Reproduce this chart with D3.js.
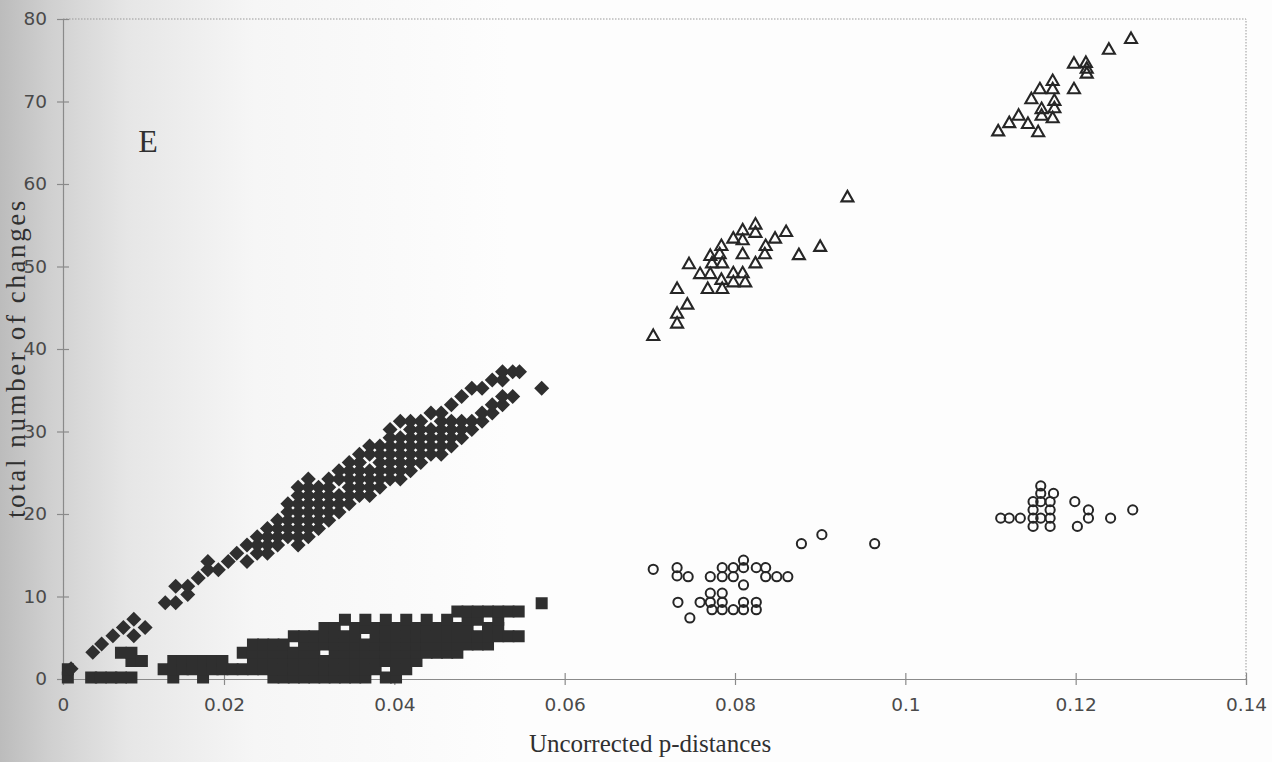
<!DOCTYPE html>
<html>
<head>
<meta charset="utf-8">
<script src="https://cdn.jsdelivr.net/npm/d3@7"></script>
<style>
  body { margin: 0; background: #fcfcfc; }
  svg { display: block; }
</style>
</head>
<body>
<div id="chart"></div>
<script>
// tick values
const xTicks = [0, 0.02, 0.04, 0.06, 0.08, 0.1, 0.12, 0.14];
const yTicks = [0, 10, 20, 30, 40, 50, 60, 70, 80];

// open triangles [p-distance, changes]
const triangles = [
  [0.1265, 77.7], [0.1239, 76.4], [0.1198, 74.7], [0.1212, 74.8], [0.1213, 74.1],
  [0.1213, 73.5], [0.1198, 71.6], [0.1173, 72.6], [0.1173, 71.6], [0.1175, 70.2],
  [0.1175, 69.3], [0.1173, 68.1], [0.1158, 71.6], [0.1148, 70.4], [0.116, 69.2],
  [0.116, 68.4], [0.1133, 68.4], [0.1122, 67.5], [0.1109, 66.5], [0.1144, 67.4],
  [0.1156, 66.4],
  [0.0932, 58.5], [0.0824, 55.2], [0.0809, 54.5], [0.0824, 54.2], [0.0798, 53.5],
  [0.0809, 53.3], [0.086, 54.3], [0.0847, 53.5], [0.0836, 52.6], [0.0835, 51.6],
  [0.0784, 52.6], [0.0782, 51.6], [0.0785, 50.5], [0.0771, 51.4], [0.0773, 50.5],
  [0.0809, 51.6], [0.0824, 50.5], [0.0746, 50.4], [0.0875, 51.5], [0.09, 52.5],
  [0.0759, 49.2], [0.0771, 49.2], [0.0798, 49.3], [0.0809, 49.3], [0.0784, 48.5],
  [0.0798, 48.2], [0.0812, 48.2], [0.0768, 47.4], [0.0785, 47.4], [0.0732, 47.4],
  [0.0744, 45.5], [0.0732, 44.4], [0.0732, 43.2], [0.0704, 41.7]
];

// open circles [p-distance, changes]
const circles = [
  [0.0704, 13.3], [0.0732, 13.5], [0.0732, 12.5], [0.0745, 12.4], [0.0771, 12.4],
  [0.0785, 12.4], [0.0798, 12.4], [0.0785, 13.5], [0.0798, 13.5], [0.081, 13.5],
  [0.0825, 13.5], [0.0836, 13.5], [0.081, 14.4], [0.0836, 12.4], [0.0849, 12.4],
  [0.0862, 12.4], [0.081, 11.4], [0.0878, 16.4], [0.0902, 17.5], [0.0964, 16.4],
  [0.0733, 9.3], [0.0759, 9.3], [0.0771, 9.3], [0.0785, 9.3], [0.0771, 10.4],
  [0.0785, 10.4], [0.0773, 8.4], [0.0785, 8.4], [0.0798, 8.4], [0.081, 8.4],
  [0.0825, 8.4], [0.081, 9.3], [0.0825, 9.3], [0.0747, 7.4],
  [0.1112, 19.5], [0.1122, 19.5], [0.1135, 19.5], [0.1159, 23.4], [0.115, 21.5],
  [0.1159, 21.5], [0.117, 21.5], [0.115, 20.5], [0.117, 20.5], [0.115, 19.5],
  [0.1159, 19.5], [0.117, 19.5], [0.115, 18.5], [0.117, 18.5], [0.1174, 22.5],
  [0.1159, 22.5], [0.1199, 21.5], [0.1202, 18.5], [0.1215, 20.5], [0.1215, 19.5],
  [0.1241, 19.5], [0.1267, 20.5]
];

// filled diamonds, by column: [p-distance, [changes...]]
const diamondCols = [
  [0.001, [1]], [0.0037, [3]], [0.0048, [4]], [0.0062, [5]], [0.0075, [6]],
  [0.0088, [5, 7]], [0.0102, [6]],
  [0.0127, [9]], [0.014, [9, 11]], [0.0155, [10, 11]], [0.0168, [12]],
  [0.018, [13, 14]], [0.0193, [13]], [0.0205, [14]], [0.0215, [15]], [0.0227, [14, 16]],
  [0.0239, [15, 16, 17]], [0.0251, [15, 16, 17, 18]], [0.0263, [16, 17, 18, 19]],
  [0.0275, [17, 18, 19, 20, 21]], [0.0287, [16, 17, 18, 19, 20, 21, 22, 23]],
  [0.0299, [17, 18, 19, 20, 21, 22, 23, 24]], [0.0311, [18, 19, 20, 21, 22, 23]],
  [0.0323, [19, 20, 21, 22, 23, 24]], [0.0335, [20, 21, 22, 24, 25]],
  [0.0347, [21, 22, 23, 24, 25, 26]], [0.0359, [22, 23, 24, 25, 26, 27]],
  [0.0371, [22, 23, 24, 25, 27, 28]], [0.0383, [23, 24, 25, 26, 27, 28]],
  [0.0395, [24, 25, 26, 27, 28, 29, 30]], [0.0407, [24, 25, 26, 27, 28, 29, 31]],
  [0.0419, [25, 26, 27, 28, 29, 30, 31]], [0.0431, [26, 27, 28, 29, 30, 31]],
  [0.0443, [27, 28, 29, 30, 32]], [0.0455, [27, 28, 29, 30, 31, 32]],
  [0.0467, [28, 29, 30, 31, 33]], [0.0479, [29, 30, 31, 34]], [0.0491, [30, 31, 35]],
  [0.0503, [31, 32, 35]], [0.0515, [32, 33, 36]], [0.0527, [33, 34, 36, 37]],
  [0.0539, [34, 37]], [0.0547, [37]], [0.0573, [35]]
];

// filled squares, by column: [p-distance, [changes...]]
const squareCols = [
  [0.0006, [0, 1]], [0.0035, [0]], [0.0047, [0]], [0.006, [0]], [0.0072, [0, 3]],
  [0.0085, [0, 2, 3]], [0.0098, [2]],
  [0.0125, [1]], [0.0137, [0, 1, 2]], [0.0149, [1, 2]], [0.0161, [1, 2]],
  [0.0174, [0, 1, 2]], [0.0186, [1, 2]], [0.0198, [1, 2]], [0.021, [1]],
  [0.0222, [1, 3]], [0.0234, [1, 2, 3, 4]], [0.0246, [1, 2, 3, 4]],
  [0.0258, [0, 1, 2, 3, 4]], [0.027, [0, 1, 2, 3, 4]], [0.0282, [0, 1, 2, 3, 5]],
  [0.0294, [0, 1, 2, 3, 4, 5]], [0.0306, [0, 1, 2, 3, 4, 5]],
  [0.0318, [0, 1, 2, 4, 5, 6]], [0.033, [0, 1, 2, 3, 4, 5, 6]],
  [0.0342, [0, 1, 2, 3, 4, 5, 7]], [0.0354, [0, 1, 2, 3, 4, 5, 6]],
  [0.0366, [0, 1, 2, 3, 4, 6, 7]], [0.0378, [1, 2, 3, 4, 5, 6]],
  [0.039, [0, 2, 3, 4, 5, 6, 7]], [0.0402, [0, 1, 2, 3, 4, 5, 6]],
  [0.0414, [1, 2, 3, 4, 5, 6, 7]], [0.0426, [2, 3, 4, 5, 6]],
  [0.0438, [3, 4, 5, 6, 7]], [0.045, [3, 4, 5, 6]], [0.0462, [3, 4, 5, 6, 7]],
  [0.0474, [3, 4, 5, 6, 8]], [0.0486, [4, 5, 6, 7, 8]], [0.0498, [4, 5, 7, 8]],
  [0.051, [4, 5, 6, 8]], [0.0522, [5, 6, 7, 8]], [0.0534, [5, 8]], [0.0546, [5, 8]],
  [0.0573, [9]]
];

const width = 1272;
const height = 762;
const markColour = "#2f2f2f";
const axisColour = "#8a8a8a";

const svg = d3.select("#chart")
  .append("svg")
  .attr("width", width)
  .attr("height", height);

// scan shadow along the left edge
const grad = svg.append("defs").append("linearGradient")
  .attr("id", "shade")
  .attr("x1", 0).attr("x2", 1).attr("y1", 0).attr("y2", 0);
grad.append("stop").attr("offset", 0).attr("stop-color", "#bcbcbc");
grad.append("stop").attr("offset", 0.04).attr("stop-color", "#d0d0d0");
grad.append("stop").attr("offset", 0.1).attr("stop-color", "#e6e6e6");
grad.append("stop").attr("offset", 0.2).attr("stop-color", "#f6f6f6");
grad.append("stop").attr("offset", 0.4).attr("stop-color", "#fdfdfd");
grad.append("stop").attr("offset", 1).attr("stop-color", "#fdfdfd");

svg.append("rect")
  .attr("width", width)
  .attr("height", height)
  .attr("fill", "url(#shade)");

// the scan is slightly squeezed near the spine, so the first interval is shorter
const x = d3.scaleLinear().domain([0, 0.02, 0.14]).range([63, 224, 1246]);
const y = d3.scaleLinear().domain([0, 80]).range([679, 19]);

// dotted plot-area border (top and right)
svg.append("path")
  .attr("d", `M${x(0)},${y(80)}H${x(0.14)}V${y(0)}`)
  .attr("fill", "none")
  .attr("stroke", "#999")
  .attr("stroke-width", 1)
  .attr("stroke-dasharray", "1.5,1.5");

// axes
const xAxis = d3.axisBottom(x)
  .tickValues(xTicks)
  .tickSize(6)
  .tickPadding(22)
  .tickFormat(d => String(+d.toFixed(2)));

const gx = svg.append("g")
  .attr("transform", `translate(0,${y(0)})`)
  .call(xAxis);

const yAxis = d3.axisLeft(y)
  .tickValues(yTicks)
  .tickSize(6)
  .tickPadding(10);

const gy = svg.append("g")
  .attr("transform", `translate(${x(0)},0)`)
  .call(yAxis);

[gx, gy].forEach(g => {
  g.select(".domain").attr("stroke", axisColour).attr("stroke-width", 1.2);
  g.selectAll(".tick line").attr("stroke", axisColour).attr("stroke-width", 1.2);
  g.selectAll(".tick text")
    .attr("fill", "#4a4a4a")
    .style("font-family", "'DejaVu Sans', sans-serif")
    .style("font-size", "18.5px");
});
// ticks cross the axis lines
gx.selectAll(".tick line").attr("y1", -6);
gy.selectAll(".tick line").attr("x1", 6);
gx.selectAll(".tick text").attr("dy", "0.2em");

// square cloud
const squares = squareCols.flatMap(([px, ys]) => ys.map(v => [px, v]));
svg.append("g")
  .selectAll("rect")
  .data(squares)
  .join("rect")
  .attr("x", d => x(d[0]) - 6)
  .attr("y", d => y(d[1]) - 6 - 1.5)
  .attr("width", 12)
  .attr("height", 12)
  .attr("fill", markColour);

// diamond cloud
const diamonds = diamondCols.flatMap(([px, ys]) => ys.map(v => [px, v]));
const diamondPath = "M0,-7.5L7.5,0L0,7.5L-7.5,0Z";
svg.append("g")
  .selectAll("path")
  .data(diamonds)
  .join("path")
  .attr("transform", d => `translate(${x(d[0])},${y(d[1]) - 2})`)
  .attr("d", diamondPath)
  .attr("fill", markColour);

// open triangles
const trianglePath = "M0,-5.5L6,5L-6,5Z";
svg.append("g")
  .selectAll("path")
  .data(triangles)
  .join("path")
  .attr("transform", d => `translate(${x(d[0])},${y(d[1])})`)
  .attr("d", trianglePath)
  .attr("fill", "none")
  .attr("stroke", "#262626")
  .attr("stroke-width", 2.1)
  .attr("stroke-linejoin", "miter");

// open circles
svg.append("g")
  .selectAll("circle")
  .data(circles)
  .join("circle")
  .attr("cx", d => x(d[0]))
  .attr("cy", d => y(d[1]))
  .attr("r", 4.6)
  .attr("fill", "none")
  .attr("stroke", "#262626")
  .attr("stroke-width", 2);

// panel letter and axis titles
svg.append("text")
  .attr("x", 148)
  .attr("y", 152)
  .attr("text-anchor", "middle")
  .attr("fill", "#303030")
  .style("font-family", "'Liberation Serif', serif")
  .style("font-size", "32px")
  .text("E");

svg.append("text")
  .attr("x", 650)
  .attr("y", 752)
  .attr("text-anchor", "middle")
  .attr("fill", "#303030")
  .style("font-family", "'Liberation Serif', serif")
  .style("font-size", "25px")
  .text("Uncorrected p-distances");

svg.append("text")
  .attr("transform", "translate(25,358) rotate(-90)")
  .attr("text-anchor", "middle")
  .attr("fill", "#303030")
  .style("font-family", "'Liberation Serif', serif")
  .style("font-size", "27px")
  .style("letter-spacing", "2.6px")
  .text("total number of changes");
</script>
</body>
</html>
